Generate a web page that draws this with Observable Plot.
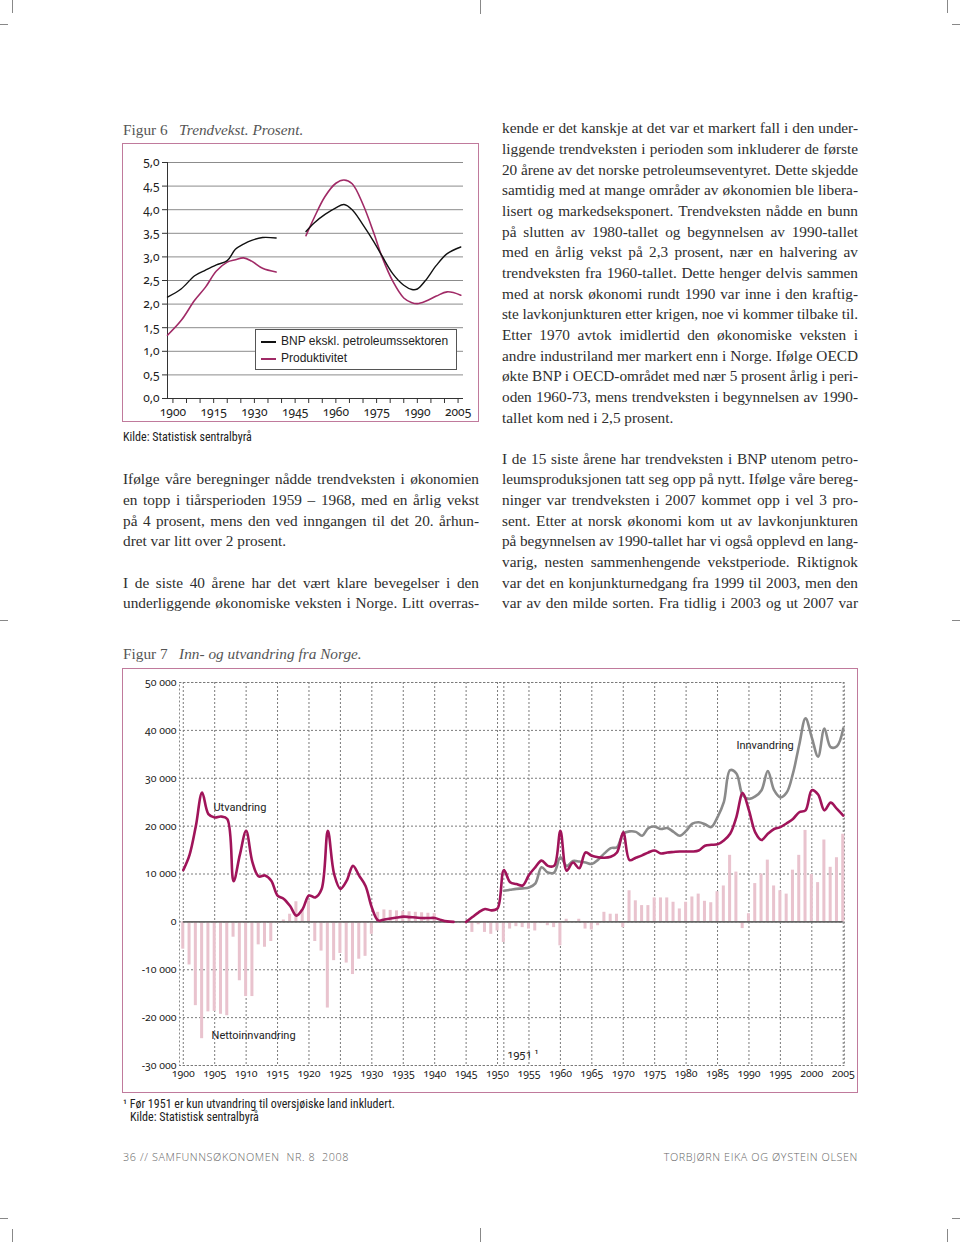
<!DOCTYPE html>
<html><head><meta charset="utf-8">
<script src="https://cdn.jsdelivr.net/npm/d3@7"></script>
<script src="https://cdn.jsdelivr.net/npm/@observablehq/plot@0.6"></script>
<style>
body{margin:0;background:#fff;}
#page{position:relative;width:960px;height:1242px;overflow:hidden;background:#fff;}
.abs{position:absolute;white-space:nowrap;}
.serif{font-family:"Liberation Serif","DejaVu Serif",serif;}
.line{position:absolute;white-space:nowrap;font-size:15.3px;height:20.65px;line-height:20.65px;color:#2e2e2e;}
.figtitle{font-size:15.3px;color:#555;line-height:18px;}
.box{position:absolute;border:1.6px solid #c07a9c;box-sizing:border-box;}
.cond{font-family:"Liberation Sans Narrow","Roboto Condensed","DejaVu Sans Condensed",sans-serif;font-size:12px;color:#222;}
.mark{position:absolute;background:#888;}
.chart svg{overflow:visible;}
.chart svg text{font-variant-numeric:oldstyle-nums;}
.foot{font-family:"Open Sans","Noto Sans",sans-serif;font-size:10.8px;color:#666;letter-spacing:0.6px;font-weight:300;}
</style></head>
<body><div id="page"></div>
<script>
// ---------------- DATA ----------------
// Figur 6: trend growth, percent
const trendYearsA = [1898, 1903, 1908, 1912, 1916, 1920, 1923, 1926, 1929, 1933, 1938];
const bnpA  = [2.15, 2.32, 2.60, 2.72, 2.83, 2.92, 3.16, 3.27, 3.35, 3.41, 3.40];
const prodA = [1.34, 1.65, 2.08, 2.36, 2.70, 2.89, 2.94, 2.98, 2.91, 2.76, 2.68];
const trendYearsB = [1949, 1952, 1956, 1960, 1963, 1966, 1970, 1974, 1977, 1981, 1985, 1988, 1990, 1993, 1997, 2001, 2006];
const bnpB  = [3.54, 3.72, 3.90, 4.04, 4.11, 4.00, 3.68, 3.32, 3.02, 2.64, 2.40, 2.31, 2.32, 2.50, 2.82, 3.07, 3.21];
const prodB = [3.45, 3.83, 4.28, 4.56, 4.63, 4.55, 4.11, 3.50, 3.00, 2.48, 2.13, 2.03, 2.01, 2.06, 2.17, 2.26, 2.19];
const fig6YTicks = [0, 0.5, 1, 1.5, 2, 2.5, 3, 3.5, 4, 4.5, 5];
const fig6XLabels = [1900, 1915, 1930, 1945, 1960, 1975, 1990, 2005];
const fig6XTicks = [1900,1905,1910,1915,1920,1925,1930,1935,1940,1945,1950,1955,1960,1965,1970,1975,1980,1985,1990,1995,2000,2005];
const fig6Series = ["BNP ekskl. petroleumssektoren", "Produktivitet"];

// Figur 7: migration
const migYears = d3.range(1900, 2006);
const utvandring = [
 10800,14000,20000,27000,22500,21800,22000,21500, 8500,14000,
 19000,12500, 9500, 9700, 8600, 5500, 4800, 3300, 1300, 2700,
  5500, 5100, 6800,19000,10000, 6900, 8600,11700, 9600, 7500,
  3000,  300,  500,  700,  900, 1100, 1000,  900,  800,  800,
   800,  400,  100,    0, null,    0, 1000, 2000, 2700, 2400,
  2800,10800, 8300, 7900, 7600, 9800,11400,12800,11700,11700,
 19000,10700,12400,11200,14500,13800,13500,13400,13600,14500,
 18700,12900,13400,13900,14500,14900,14300,14500,14600,14700,
 14700,14700,14900,15900,16100,16200,17000,18400,21900,26900,
 23300,18700,17100,18400,19400,19800,20600,21500,22900,23300,
 27500,26600,23300,24900,23600,22200];
const innYears = d3.range(1951, 2006);
const innvandring = [
  6500, 6700, 6900, 7000, 7200, 8000,11400,10300,10300,13500,
 11700,12700,12600,12400,12100,13000,14300,15400,15600,18400,
 18900,18800,18000,19600,19900,19400,19600,18800,18000,19000,
 20500,20800,20400,19800,21900,25000,31700,31000,26500,25700,
 26200,27500,31500,27500,26000,27000,31000,37000,42500,38500,
 34500,40400,36500,36700,40400];
const nettoinnvandring = [
  -5700, -9000,-17500,-24400,-18800,-18700,-19300,-19600, -3200,-12300,
 -15600,-15600, -4800, -5300, -4100,  -300,   400,  1600,  4200,  2300,
   4400, -4100, -6100,-18000, -8100, -6600, -8600,-11000, -7800, -7200,
  -2600,  2000,  2500,  2400,  2300,  2200,  2100,  2000,  1900,  1800,
   1700,     0,     0,     0,     0,     0, -2200,  -600, -2200, -2600,
  -1900, -4300, -1500, -1000, -1200, -1500, -1900,  -350,  -800, -1200,
  -5000,   550,     0,   550, -1500, -1700,  -800,  2000,  1600,  1600,
  -1200,  6500,  4400,  3400,  3400,  5000,  5000,  5000,  4100,  2700,
   4100,  5200,  5800,  4300,  4000,  6300,  7500, 13900, 10400, -1400,
   1700,  8000, 10000, 12900,  7500,  6500,  5800, 10800, 13900, 19100,
   9900,  8200, 17100, 11400, 13400, 18300];
const fig7YTicks = [-30000,-20000,-10000,0,10000,20000,30000,40000,50000];
const fig7XTicks = [1900,1905,1910,1915,1920,1925,1930,1935,1940,1945,1950,1955,1960,1965,1970,1975,1980,1985,1990,1995,2000,2005];
const fig7ExtraGrid = [1951];
const fig7Labels = [
  {text: "Utvandring", year: 1904.8, value: 24000},
  {text: "Innvandring", year: 1988.0, value: 36800},
  {text: "Nettoinnvandring", year: 1904.5, value: -23800},
  {text: "1951 \u00B9", year: 1951.5, value: -27800}
];

// Body text
const leftParas = [
 {lines: ["Ifølge våre beregninger nådde trendveksten i økonomien",
          "en topp i tiårsperioden 1959 – 1968, med en årlig vekst",
          "på 4 prosent, mens den ved inngangen til det 20. århun-",
          "dret var litt over 2 prosent."], loose: true},
 {lines: ["I de siste 40 årene har det vært klare bevegelser i den",
          "underliggende økonomiske veksten i Norge. Litt overras-"], loose: false}
];
const rightParas = [
 {lines: ["kende er det kanskje at det var et markert fall i den under-",
          "liggende trendveksten i perioden som inkluderer de første",
          "20 årene av det norske petroleumseventyret. Dette skjedde",
          "samtidig med at mange områder av økonomien ble libera-",
          "lisert og markedseksponert. Trendveksten nådde en bunn",
          "på slutten av 1980-tallet og begynnelsen av 1990-tallet",
          "med en årlig vekst på 2,3 prosent, nær en halvering av",
          "trendveksten fra 1960-tallet. Dette henger delvis sammen",
          "med at norsk økonomi rundt 1990 var inne i den kraftig-",
          "ste lavkonjunkturen etter krigen, noe vi kommer tilbake til.",
          "Etter 1970 avtok imidlertid den økonomiske veksten i",
          "andre industriland mer markert enn i Norge. Ifølge OECD",
          "økte BNP i OECD-området med nær 5 prosent årlig i peri-",
          "oden 1960-73, mens trendveksten i begynnelsen av 1990-",
          "tallet kom ned i 2,5 prosent."], loose: true},
 {lines: ["I de 15 siste årene har trendveksten i BNP utenom petro-",
          "leumsproduksjonen tatt seg opp på nytt. Ifølge våre bereg-",
          "ninger var trendveksten i 2007 kommet opp i vel 3 pro-",
          "sent. Etter at norsk økonomi kom ut av lavkonjunkturen",
          "på begynnelsen av 1990-tallet har vi også opplevd en lang-",
          "varig, nesten sammenhengende vekstperiode. Riktignok",
          "var det en konjunkturnedgang fra 1999 til 2003, men den",
          "var av den milde sorten. Fra tidlig i 2003 og ut 2007 var"], loose: false}
];

// ---------------- PAGE ----------------
const page = document.getElementById("page");
function el(tag, cls, css, html) {
  const d = document.createElement(tag);
  if (cls) d.className = cls;
  Object.assign(d.style, css || {});
  if (html != null) d.innerHTML = html;
  page.appendChild(d);
  return d;
}
// crop marks
[[12,0,1,13],[480,0,1,14],[947,0,1,13],[0,24,8,1],[952,24,8,1],
 [0,620,8,1],[952,620,8,1],
 [12,1229,1,13],[480,1228,1,14],[947,1229,1,13],[0,1218,8,1],[952,1218,8,1]]
 .forEach(([l,t,w,h]) => el("div","mark",{left:l+"px",top:t+"px",width:w+"px",height:h+"px"}));

// titles
el("div","abs serif figtitle",{left:"123px",top:"121px"},'Figur 6&nbsp;&nbsp;&nbsp;<i>Trendvekst. Prosent.</i>');
el("div","abs serif figtitle",{left:"123px",top:"645px"},'Figur 7&nbsp;&nbsp;&nbsp;<i>Inn- og utvandring fra Norge.</i>');

// body text
const GRID_TOP = 118.4, LH = 20.65, COLW = 356;
function setParas(paras, left, startRow) {
  let row = startRow;
  paras.forEach(p => {
    p.lines.forEach((t, i) => {
      const d = el("div", "line serif", {left: left + "px", top: (GRID_TOP + row * LH) + "px"});
      d.textContent = t;
      const natural = d.getBoundingClientRect().width;
      const last = p.loose && i === p.lines.length - 1;
      const spaces = (t.match(/ /g) || []).length;
      if (natural > COLW) {
        d.style.letterSpacing = ((COLW - natural) / t.length) + "px";
      } else if (!last && spaces) {
        d.style.wordSpacing = ((COLW - natural) / spaces) + "px";
      }
      row++;
    });
    row++;
  });
}
setParas(leftParas, 123, 17);
setParas(rightParas, 502, 0);

// ---------------- FIGUR 6 ----------------
el("div","box",{left:"122px",top:"143px",width:"357px",height:"279px"});
const fig6Data = [];
trendYearsA.forEach((y,i) => fig6Data.push({year:y, bnp:bnpA[i], prod:prodA[i], seg:"A"}));
trendYearsB.forEach((y,i) => fig6Data.push({year:y, bnp:bnpB[i], prod:prodB[i], seg:"B"}));
const fig6XDomain = [1898, 2007];
const fig6 = Plot.plot({
  width: 357, height: 279,
  marginLeft: 45, marginRight: 16, marginTop: 19, marginBottom: 24,
  style: {fontFamily: "'Noto Sans', sans-serif", fontSize: "12px", color: "#222", background: "transparent"},
  x: {domain: fig6XDomain, label: null},
  y: {domain: [0, 5], label: null},
  marks: [
    Plot.gridY(fig6YTicks, {stroke: "#8c8c8c", strokeOpacity: 1, strokeWidth: 1}),
    Plot.ruleY([0], {stroke: "#333", strokeWidth: 1}),
    Plot.ruleX([fig6XDomain[0]], {y1: 0, y2: 5, stroke: "#333", strokeWidth: 1}),
    Plot.axisY(fig6YTicks, {tickSize: 5, tickPadding: 3, stroke: "#333", tickFormat: d => d.toFixed(1).replace(".", ",")}),
    Plot.axisX(fig6XTicks, {tickSize: 5, stroke: "#333", tickFormat: () => ""}),
    Plot.axisX(fig6XLabels, {tickSize: 0, tickPadding: 9, tickFormat: d => String(d)}),
    Plot.line(fig6Data, {x: "year", y: "prod", z: "seg", stroke: "#a02a66", strokeWidth: 1.6, curve: "catmull-rom"}),
    Plot.line(fig6Data, {x: "year", y: "bnp", z: "seg", stroke: "#111", strokeWidth: 1.4, curve: "catmull-rom"})
  ]
});
const c6 = el("div","abs chart",{left:"122px",top:"143px"});
c6.appendChild(fig6);
// legend
const leg = el("div","abs",{left:"255px",top:"329px",width:"202px",height:"41px",border:"1px solid #555",background:"#fff",boxSizing:"border-box",fontFamily:"'Liberation Sans', Arial, sans-serif",fontSize:"12px",color:"#222"});
[["#111", fig6Series[0], 4],["#a02a66", fig6Series[1], 21]].forEach(([c, t, top]) => {
  const r = document.createElement("div");
  Object.assign(r.style, {position:"absolute", left:"5px", top: top + "px", height:"14px", lineHeight:"14px", whiteSpace:"nowrap"});
  r.innerHTML = `<span style="display:inline-block;width:15px;height:0;border-top:2px solid ${c};vertical-align:middle;margin-right:5px"></span>${t}`;
  leg.appendChild(r);
});
el("div","abs cond",{left:"123px",top:"430px"},"Kilde: Statistisk sentralbyrå");

// ---------------- FIGUR 7 ----------------
el("div","box",{left:"122px",top:"668px",width:"736px",height:"425px"});
const net7 = migYears.map((y,i) => ({year: y, net: nettoinnvandring[i]}));
const ut7 = migYears.map((y,i) => ({year: y, value: utvandring[i]}));
const inn7 = innYears.map((y,i) => ({year: y, value: innvandring[i]}));
const fig7XDomain = [1899.4, 2005.2];
const fmt7 = d => (d < 0 ? "-" : "") + String(Math.abs(d)).replace(/\B(?=(\d{3})+(?!\d))/g, " ");
const fig7 = Plot.plot({
  width: 736, height: 425,
  marginLeft: 57, marginRight: 14, marginTop: 14, marginBottom: 28,
  style: {fontFamily: "'Noto Sans', sans-serif", fontSize: "10.5px", color: "#222", background: "transparent"},
  x: {domain: fig7XDomain, label: null},
  y: {domain: [-30000, 50000], label: null},
  marks: [
    Plot.frame({stroke: "#8a8a8a", strokeDasharray: "2,2"}),
    Plot.gridY(fig7YTicks, {stroke: "#7a7a7a", strokeOpacity: 1, strokeDasharray: "2,2"}),
    Plot.gridX(fig7XTicks.concat(fig7ExtraGrid), {stroke: "#7a7a7a", strokeOpacity: 1, strokeDasharray: "2,2"}),
    Plot.rect(net7, {x1: d => d.year - 0.24, x2: d => d.year + 0.24, y1: 0, y2: "net", fill: "#e9c3ce"}),
    Plot.ruleY([0], {x1: fig7XTicks[0], x2: fig7XTicks[fig7XTicks.length - 1], stroke: "#666", strokeWidth: 1.6}),
    Plot.line(inn7, {x: "year", y: "value", stroke: "#8a8a8a", strokeWidth: 2.6, curve: "catmull-rom"}),
    Plot.line(ut7, {x: "year", y: "value", stroke: "#a0145a", strokeWidth: 2.6, curve: "catmull-rom"}),
    Plot.axisY(fig7YTicks, {tickSize: 0, tickPadding: 3, tickFormat: fmt7}),
    Plot.axisX(fig7XTicks, {tickSize: 0, tickPadding: 4, tickFormat: d => String(d)}),
    Plot.text(fig7Labels, {x: "year", y: "value", text: "text", textAnchor: "start", fill: "#222",
      fontFamily: "Roboto, 'Noto Sans', sans-serif", fontSize: 11})
  ]
});
const c7 = el("div","abs chart",{left:"122px",top:"668px"});
c7.appendChild(fig7);

el("div","abs cond",{left:"123px",top:"1097px"},"\u00B9 Før 1951 er kun utvandring til oversjøiske land inkludert.");
el("div","abs cond",{left:"130px",top:"1110px"},"Kilde: Statistisk sentralbyrå");

// footer
el("div","abs foot",{left:"123px",top:"1149px"},"36 // SAMFUNNSØKONOMEN&nbsp; NR. 8&nbsp; 2008");
el("div","abs foot",{right:"102px",top:"1149px"},"TORBJØRN EIKA OG ØYSTEIN OLSEN");
</script>
</body></html>
